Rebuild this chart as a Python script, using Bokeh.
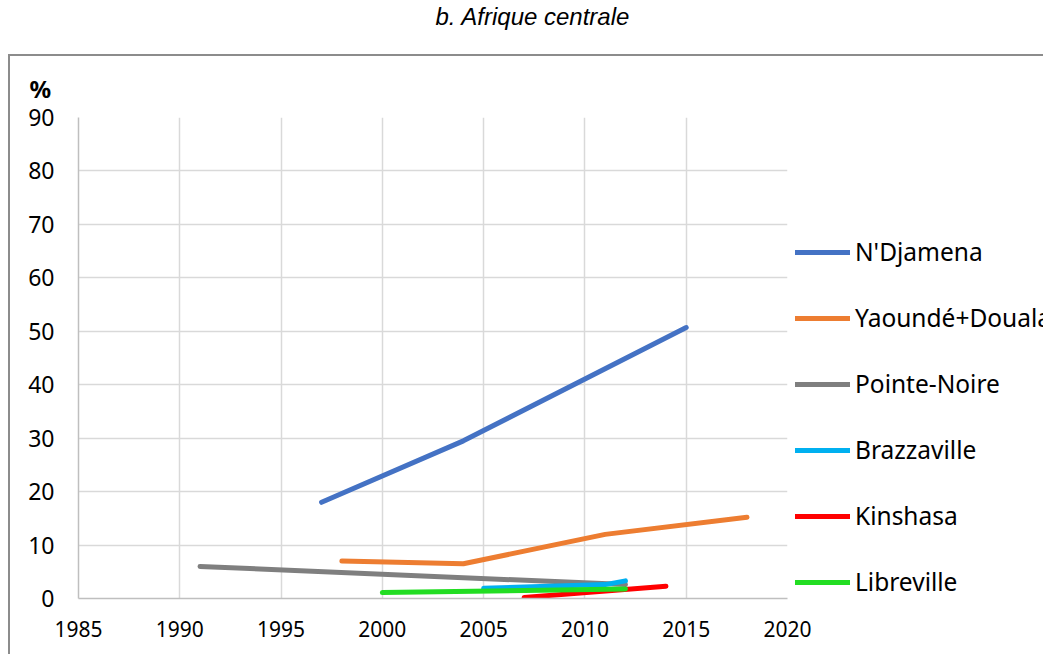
from bokeh.plotting import figure
from bokeh.layouts import column, row
from bokeh.models import (Range1d, FixedTicker, Legend, LegendItem, Title, Spacer)
from bokeh.embed import file_html
from bokeh.resources import INLINE

# ---- data ----
ndjamena_x = [1997, 2004, 2015]
ndjamena_y = [18.0, 29.5, 50.7]
yaounde_x = [1998, 2004, 2011, 2018]
yaounde_y = [7.0, 6.5, 12.0, 15.2]
pointe_x = [1991, 2012]
pointe_y = [6.0, 2.6]
brazza_x = [2005, 2011, 2012]
brazza_y = [1.9, 2.6, 3.3]
kinshasa_x = [2007, 2014]
kinshasa_y = [0.2, 2.3]
libre_x = [2000, 2012]
libre_y = [1.1, 1.8]

series = [
    ("N'Djamena", ndjamena_x, ndjamena_y, "#4472C4"),
    ("Yaoundé+Douala", yaounde_x, yaounde_y, "#ED7D31"),
    ("Pointe-Noire", pointe_x, pointe_y, "#7F7F7F"),
    ("Brazzaville", brazza_x, brazza_y, "#00B0F0"),
    ("Kinshasa", kinshasa_x, kinshasa_y, "#FF0000"),
    ("Libreville", libre_x, libre_y, "#22DD22"),
]
x_ticks = [1985, 1990, 1995, 2000, 2005, 2010, 2015, 2020]
y_ticks = [0, 10, 20, 30, 40, 50, 60, 70, 80, 90]
title_text = "b. Afrique centrale"
unit_text = "%"

FONT = "Noto Sans"

# ---- title strip ----
t = figure(width=1040, height=54, output_backend="svg", toolbar_location=None,
           x_range=Range1d(0, 1), y_range=Range1d(0, 1), frame_align=False,
           min_border_left=0, min_border_right=0, min_border_top=14, min_border_bottom=0)
t.scatter([0.5], [0.5], size=0, alpha=0)
t.axis.visible = False
t.grid.visible = False
t.outline_line_color = None
tt = Title(text=title_text, text_font="Liberation Sans", text_font_style="italic",
           text_font_size="24px", align="left", offset=435, standoff=0,
           text_color="#000000")
t.add_layout(tt, "above")

# ---- main chart ----
p = figure(frame_width=707, frame_height=479, output_backend="svg", toolbar_location=None,
           x_range=Range1d(1985, 2020), y_range=Range1d(0, 90), frame_align=False,
           min_border_left=68, min_border_right=0, min_border_top=59,
           min_border_bottom=58)
p.styles = {"border-top": "2px solid #8C8C8C", "border-left": "2px solid #8C8C8C"}
p.outline_line_color = None

p.xaxis.ticker = FixedTicker(ticks=x_ticks)
p.yaxis.ticker = FixedTicker(ticks=y_ticks)
for ax in (p.xaxis, p.yaxis):
    ax.major_tick_line_color = None
    ax.minor_tick_line_color = None
    ax.axis_line_color = "#BFBFBF"
    ax.axis_line_width = 1.5
    ax.major_label_text_font = FONT
    ax.major_label_text_color = "#000000"
p.xaxis.major_label_text_font_size = "21px"
p.yaxis.major_label_text_font_size = "23px"
p.xaxis.major_label_standoff = 16
p.yaxis.major_label_standoff = 18

p.xgrid.ticker = FixedTicker(ticks=x_ticks)
p.ygrid.ticker = FixedTicker(ticks=y_ticks)
p.grid.grid_line_color = "#D9D9D9"
p.grid.grid_line_width = 1.5

items = []
for name, xs, ys, col in series:
    r = p.line(xs, ys, line_color=col, line_width=5, line_cap="round", line_join="round")
    items.append(LegendItem(label=name, renderers=[r]))

legend = Legend(items=items, location=(8, 0), glyph_width=55, glyph_height=20,
                label_height=20, spacing=33, label_standoff=5,
                padding=0, margin=0,
                border_line_color=None, background_fill_alpha=0,
                label_text_font=FONT, label_text_font_size="24.5px",
                label_text_color="#000000")
p.add_layout(legend, "right")

pct = Title(text=unit_text, text_font=FONT, text_font_style="bold",
            text_font_size="24px", align="left", offset=-49, standoff=26,
            text_color="#000000")
p.add_layout(pct, "above")

layout = column(t, row(Spacer(width=8, height=10), p, spacing=0), spacing=0)
open("out.html", "w").write(file_html(layout, INLINE))
